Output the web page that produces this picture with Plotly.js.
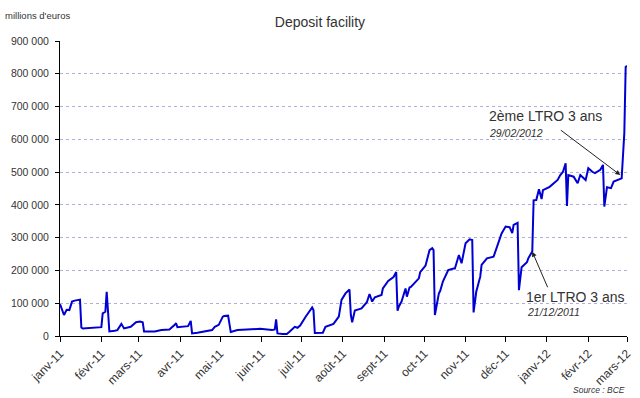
<!DOCTYPE html>
<html>
<head>
<meta charset="utf-8">
<script src="https://cdn.plot.ly/plotly-3.0.1.min.js"></script>
<style>html,body{margin:0;padding:0;background:#fff;}#chart{width:640px;height:398px;}</style>
</head>
<body>
<div id="chart"></div>
<script>
const dates = [
"2011-01-01","2011-01-04","2011-01-06","2011-01-08","2011-01-10","2011-01-12","2011-01-16","2011-01-17","2011-01-18","2011-01-24",
"2011-02-01","2011-02-02","2011-02-04","2011-02-05","2011-02-07","2011-02-11","2011-02-13","2011-02-16","2011-02-18","2011-02-23",
"2011-02-27","2011-03-02","2011-03-04","2011-03-05","2011-03-13","2011-03-18","2011-03-24","2011-03-28","2011-03-29","2011-03-30",
"2011-04-04","2011-04-07","2011-04-09","2011-04-10","2011-04-14","2011-04-19","2011-04-25","2011-04-27","2011-04-30","2011-05-03",
"2011-05-04","2011-05-07","2011-05-08","2011-05-09","2011-05-14","2011-05-26","2011-05-31","2011-06-09","2011-06-11","2011-06-12",
"2011-06-13","2011-06-17","2011-06-20","2011-06-22","2011-06-26","2011-06-28","2011-06-30","2011-07-04","2011-07-06","2011-07-09",
"2011-07-10","2011-07-11","2011-07-17","2011-07-19","2011-07-25","2011-07-27","2011-07-29","2011-07-31","2011-08-03","2011-08-06",
"2011-08-07","2011-08-08","2011-08-10","2011-08-15","2011-08-19","2011-08-21","2011-08-23","2011-08-25","2011-08-30","2011-08-31",
"2011-09-04","2011-09-08","2011-09-10","2011-09-11","2011-09-12","2011-09-14","2011-09-16","2011-09-17","2011-09-18","2011-09-20",
"2011-09-21","2011-09-27","2011-09-28","2011-10-02","2011-10-05","2011-10-07","2011-10-08","2011-10-09","2011-10-12","2011-10-13",
"2011-10-15","2011-10-18","2011-10-19","2011-10-23","2011-10-24","2011-10-27","2011-10-29","2011-11-01","2011-11-04","2011-11-06",
"2011-11-07","2011-11-09","2011-11-12","2011-11-13","2011-11-17","2011-11-22","2011-11-26","2011-11-28","2011-12-01","2011-12-04",
"2011-12-06","2011-12-07","2011-12-10","2011-12-11","2011-12-13","2011-12-17","2011-12-18","2011-12-21","2011-12-22","2011-12-24",
"2011-12-26","2011-12-28","2011-12-29","2012-01-03","2012-01-09","2012-01-11","2012-01-13","2012-01-15","2012-01-16","2012-01-17",
"2012-01-21","2012-01-24","2012-01-26","2012-01-30","2012-02-01","2012-02-04","2012-02-06","2012-02-10","2012-02-12","2012-02-13",
"2012-02-15","2012-02-18","2012-02-20","2012-02-23","2012-02-26","2012-02-28","2012-02-29","2012-03-01"
];
// Deposit facility, millions of euros
const deposits = [
97000,64000,80000,79000,105000,108000,111000,26000,23000,25000,
27000,69000,74000,135000,14000,16000,18000,37000,23000,28000,
42000,44000,42000,14000,14000,18000,20000,34000,39000,27000,
30000,30000,46000,8000,10000,13000,18000,28000,34000,59000,
61000,62000,39000,12000,18000,20000,22000,18000,20000,51000,
8000,6000,6000,13000,28000,25000,32000,58000,69000,87000,
79000,9000,10000,28000,37000,49000,59000,110000,130000,142000,
64000,42000,78000,84000,103000,128000,105000,118000,125000,145000,
168000,180000,195000,77000,90000,105000,130000,145000,120000,148000,
150000,176000,195000,215000,262000,268000,262000,64000,130000,138000,
166000,190000,201000,206000,206000,247000,222000,283000,295000,293000,
72000,135000,181000,217000,237000,242000,290000,313000,334000,332000,
314000,339000,345000,140000,210000,225000,237000,258000,414000,415000,
448000,418000,445000,455000,476000,491000,501000,527000,397000,491000,
486000,466000,491000,476000,512000,501000,497000,507000,522000,395000,
454000,451000,471000,476000,481000,620000,821000,824000
];
const xTickVals = ["2011-01-01","2011-02-01","2011-03-01","2011-04-01","2011-05-01","2011-06-01","2011-07-01","2011-08-01","2011-09-01","2011-10-01","2011-11-01","2011-12-01","2012-01-01","2012-02-01","2012-03-01"];
const xTickText = ["janv-11","févr-11","mars-11","avr-11","mai-11","juin-11","juil-11","août-11","sept-11","oct-11","nov-11","déc-11","janv-12","févr-12","mars-12"];
const yTickVals = [0,100000,200000,300000,400000,500000,600000,700000,800000,900000];
const yTickText = ["0","100 000","200 000","300 000","400 000","500 000","600 000","700 000","800 000","900 000"];

const FONT = "Liberation Sans, Arial, sans-serif";
const TXT = "#333333";

const trace = {
  x: dates, y: deposits, type: "scatter", mode: "lines",
  line: {color: "#0000d2", width: 2}, hoverinfo: "skip"
};

const layout = {
  width: 640, height: 398,
  margin: {l: 60, r: 13, t: 41, b: 62, pad: 0},
  paper_bgcolor: "#ffffff", plot_bgcolor: "#ffffff",
  showlegend: false,
  font: {family: FONT, color: TXT, size: 10.5},
  title: {text: "Deposit facility", font: {family: FONT, size: 14, color: TXT},
          x: 0.5, xref: "container", xanchor: "center", y: 1 - 22/398, yref: "container", yanchor: "middle"},
  xaxis: {
    type: "date", range: ["2011-01-01", "2012-03-01"],
    tickmode: "array", tickvals: xTickVals, ticktext: xTickText,
    tickangle: -45, ticks: "outside", ticklen: 5, tickcolor: "#000", tickwidth: 1,
    showline: true, linecolor: "#000", linewidth: 1,
    showgrid: false, zeroline: false,
    tickfont: {family: FONT, size: 12, color: TXT}
  },
  yaxis: {
    range: [0, 900000], tickmode: "array", tickvals: yTickVals, ticktext: yTickText,
    ticks: "outside", ticklen: 4, tickcolor: "#000", tickwidth: 1,
    showline: true, linecolor: "#000", linewidth: 1,
    showgrid: true, gridcolor: "#b0b0dc", griddash: "3px,3px", gridwidth: 1,
    zeroline: false, ticklabelstandoff: 4,
    tickfont: {family: FONT, size: 10.5, color: TXT}
  },
  annotations: [
    {xref: "paper", yref: "paper", x: (3 - 60) / 567, y: (336 - 15.7) / 295, xanchor: "left", yanchor: "middle",
     text: "millions d'euros", showarrow: false, font: {family: FONT, size: 9.5, color: TXT}},
    {xref: "paper", yref: "paper", x: 1, y: (336 - 389.5) / 295, xanchor: "right", yanchor: "middle",
     text: "<i>Source : BCE</i>", showarrow: false, font: {family: FONT, size: 8.5, color: TXT}},
    {xref: "paper", yref: "paper", x: (487 - 60) / 567, y: (336 - 116) / 295, xanchor: "left", yanchor: "middle",
     text: "2ème LTRO 3 ans", showarrow: false, font: {family: FONT, size: 14, color: TXT}},
    {xref: "paper", yref: "paper", x: (487 - 60) / 567, y: (336 - 133.3) / 295, xanchor: "left", yanchor: "middle",
     text: "<i>29/02/2012</i>", showarrow: false, font: {family: FONT, size: 10.5, color: TXT}},
    {xref: "paper", yref: "paper", x: (524 - 60) / 567, y: (336 - 297.3) / 295, xanchor: "left", yanchor: "middle",
     text: "1er LTRO 3 ans", showarrow: false, font: {family: FONT, size: 14, color: TXT}},
    {xref: "paper", yref: "paper", x: (524.5 - 60) / 567, y: (336 - 312.3) / 295, xanchor: "left", yanchor: "middle",
     text: "<i>21/12/2011</i>", showarrow: false, font: {family: FONT, size: 10.5, color: TXT}},
    {x: "2012-02-25", y: 491000, xref: "x", yref: "y", text: "", showarrow: true,
     ax: -61, ay: -46, arrowhead: 2, arrowsize: 1, arrowwidth: 1, arrowcolor: "#222"},
    {x: "2011-12-21", y: 257000, xref: "x", yref: "y", text: "", showarrow: true,
     ax: 16, ay: 37, arrowhead: 2, arrowsize: 1, arrowwidth: 1, arrowcolor: "#222"}
  ]
};

Plotly.newPlot("chart", [trace], layout, {displayModeBar: false, staticPlot: true});
</script>
</body>
</html>
